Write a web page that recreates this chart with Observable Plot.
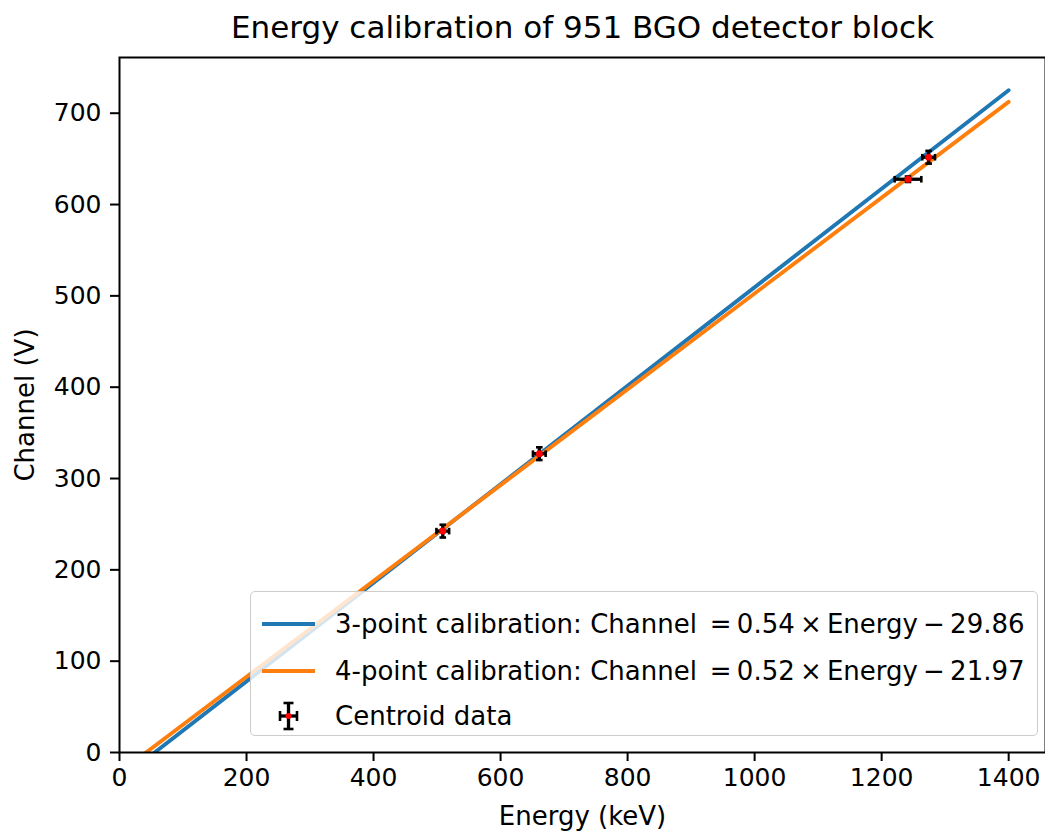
<!DOCTYPE html>
<html>
<head>
<meta charset="utf-8">
<script src="https://cdn.jsdelivr.net/npm/d3@7"></script>
<script src="https://cdn.jsdelivr.net/npm/@observablehq/plot@0.6"></script>
<style>
  html, body { margin: 0; padding: 0; background: #fff; overflow: hidden; }
  #wrap { position: relative; width: 1045px; height: 831px; font-family: "DejaVu Sans", sans-serif; }
  #legend {
    position: absolute; left: 250px; top: 591px; width: 786px; height: 143px;
    background: rgba(255,255,255,0.8); border: 1.6px solid #cccccc; border-radius: 5px;
    font-size: 26px; color: #000;
  }
  .row { position: absolute; left: 0; height: 34px; display: flex; align-items: center; white-space: pre; }
  .row svg { margin-left: 11px; margin-right: 20px; flex: none; }
</style>
</head>
<body>
<div id="wrap"></div>
<script>
// Centroid measurements: peak energy (keV) vs. fitted channel
const energy     = [509, 661, 1241.5, 1274];
const channel    = [242.4, 327.2, 627.7, 651.8];
const energyErr  = [10, 10, 21, 10];
const channelErr = [7, 7, 3, 7];

// Linear calibration fits: Channel = slope * Energy + intercept
const fitNames      = ["3-point calibration", "4-point calibration"];
const fitSlope      = [0.5393, 0.5246];
const fitIntercept  = [-29.86, -21.97];
const fitColors     = ["#1f77b4", "#ff7f0e"];
const fitRange      = [0, 1400];

const xTicks = [0, 200, 400, 600, 800, 1000, 1200, 1400];
const yTicks = [0, 100, 200, 300, 400, 500, 600, 700];

const points = energy.map((e, i) => ({e, ch: channel[i], xe: energyErr[i], ye: channelErr[i]}));
const fitLines = fitNames.flatMap((name, i) =>
  fitRange.map(e => ({name, e, ch: fitSlope[i] * e + fitIntercept[i]}))
);

// Error-bar caps as custom symbols (short strokes)
const capV = {draw(ctx, size) { const h = Math.sqrt(size / Math.PI); ctx.moveTo(0, -h); ctx.lineTo(0, h); }};
const capH = {draw(ctx, size) { const h = Math.sqrt(size / Math.PI); ctx.moveTo(-h, 0); ctx.lineTo(h, 0); }};

const capsX = points.flatMap(d => [{e: d.e - d.xe, ch: d.ch}, {e: d.e + d.xe, ch: d.ch}]);
const capsY = points.flatMap(d => [{e: d.e, ch: d.ch - d.ye}, {e: d.e, ch: d.ch + d.ye}]);

const txt = "#000";

const chart = Plot.plot({
  width: 1045,
  height: 831,
  marginLeft: 119,
  marginRight: 0,
  marginTop: 57,
  marginBottom: 79,
  style: {fontFamily: "DejaVu Sans, sans-serif", fontSize: "25px", color: txt, background: "white", overflow: "visible"},
  x: {domain: [0, 1458], ticks: xTicks, label: null},
  y: {domain: [0, 761], ticks: yTicks, label: null},
  color: {domain: fitNames, range: fitColors},
  marks: [
    Plot.axisX({ticks: xTicks, tickFormat: d => String(d), tickSize: 9, tickPadding: 7, strokeWidth: 2, label: null}),
    Plot.axisY({ticks: yTicks, tickFormat: d => String(d), tickSize: 9, tickPadding: 9, strokeWidth: 2, label: null}),
    Plot.line(fitLines, {x: "e", y: "ch", z: "name", stroke: "name", strokeWidth: 3.9, clip: true}),
    Plot.ruleY(points, {y: "ch", x1: d => d.e - d.xe, x2: d => d.e + d.xe, stroke: "black", strokeWidth: 3.3}),
    Plot.ruleX(points, {x: "e", y1: d => d.ch - d.ye, y2: d => d.ch + d.ye, stroke: "black", strokeWidth: 3.3}),
    Plot.dot(capsX, {x: "e", y: "ch", symbol: capV, r: 3.3, fill: "none", stroke: "black", strokeWidth: 2.6}),
    Plot.dot(capsY, {x: "e", y: "ch", symbol: capH, r: 3.3, fill: "none", stroke: "black", strokeWidth: 2.6}),
    Plot.dot(points, {x: "e", y: "ch", r: 3.5, fill: "red", stroke: "none"}),
    Plot.frame({stroke: "black", strokeWidth: 2}),
    Plot.text(["Energy calibration of 951 BGO detector block"], {frameAnchor: "top", lineAnchor: "middle", dy: -29, fontSize: 31, fill: txt}),
    Plot.text(["Energy (keV)"], {frameAnchor: "bottom", lineAnchor: "middle", dy: 64, fontSize: 26, fill: txt}),
    Plot.text(["Channel (V)"], {frameAnchor: "left", textAnchor: "middle", lineAnchor: "middle", dx: -94, rotate: -90, fontSize: 26, fill: txt})
  ]
});

const wrap = document.getElementById("wrap");
wrap.appendChild(chart);

// Legend over the lower right of the plot area
const legend = document.createElement("div");
legend.id = "legend";
const fmtEq = i => `${fitNames[i]}: Channel\u2002=\u20090${fitSlope[i].toFixed(2).slice(1)}\u2009×\u2009Energy\u2009−\u2009${Math.abs(fitIntercept[i]).toFixed(2)}`;
const rowsTop = [15, 62, 107];
fitNames.forEach((name, i) => {
  const row = document.createElement("div");
  row.className = "row";
  row.style.top = rowsTop[i] + "px";
  row.innerHTML = `<svg width="53" height="34"><line x1="0" x2="53" y1="17" y2="17" stroke="${fitColors[i]}" stroke-width="3.9"/></svg><span>${fmtEq(i)}</span>`;
  legend.appendChild(row);
});
const errRow = document.createElement("div");
errRow.className = "row";
errRow.style.top = rowsTop[2] + "px";
errRow.innerHTML = `<svg width="53" height="34">
  <line x1="18" x2="35" y1="17" y2="17" stroke="black" stroke-width="3.3"/>
  <line x1="26.5" x2="26.5" y1="4" y2="30" stroke="black" stroke-width="3.3"/>
  <line x1="18" x2="18" y1="12" y2="22" stroke="black" stroke-width="2.6"/>
  <line x1="35" x2="35" y1="12" y2="22" stroke="black" stroke-width="2.6"/>
  <line x1="21.5" x2="31.5" y1="4" y2="4" stroke="black" stroke-width="2.6"/>
  <line x1="21.5" x2="31.5" y1="30" y2="30" stroke="black" stroke-width="2.6"/>
  <circle cx="26.5" cy="17" r="3" fill="red"/>
</svg><span>Centroid data</span>`;
legend.appendChild(errRow);
wrap.appendChild(legend);
</script>
</body>
</html>
